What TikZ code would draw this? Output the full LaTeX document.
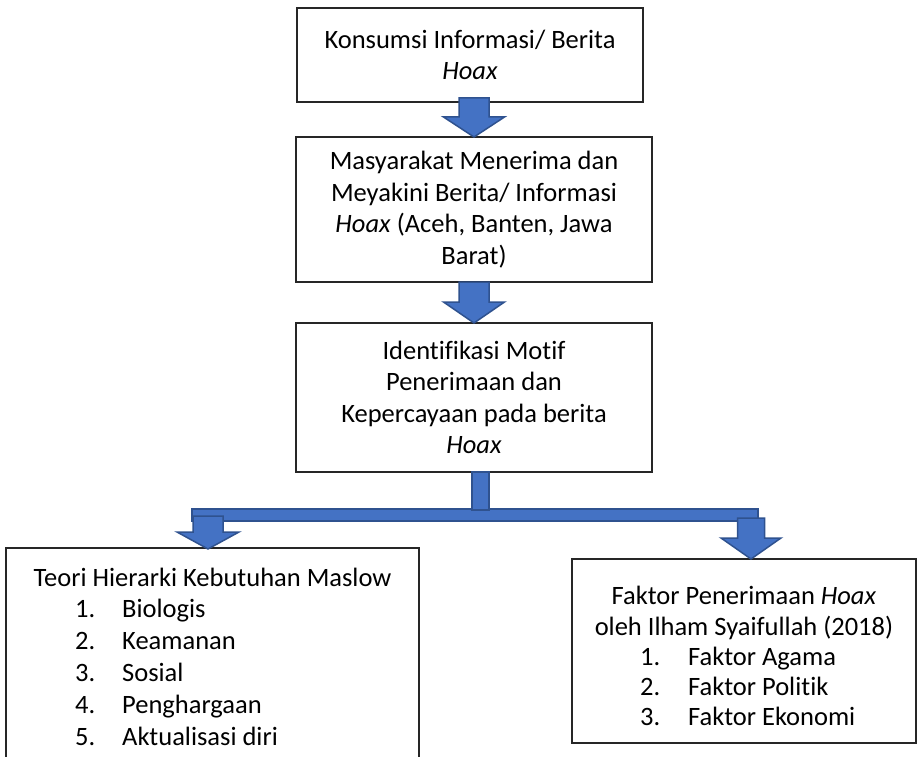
\documentclass[tikz,border=0pt]{standalone}
\usepackage{fontspec}
\setmainfont{Carlito}[Ligatures={NoCommon,NoContextual,NoRequired},RawFeature={-calt}]
\usetikzlibrary{calc}
\definecolor{arrowfill}{HTML}{4472C4}
\definecolor{arrowline}{HTML}{2F528F}
\newcommand\blockarr[5]{%
  \draw[blockarrow] #1 -- ++(-#4,-#2) -- ++(#4-#5,0) -- ++(0,-#3) -- ++(2*#5,0) -- ++(0,#3) -- ++(#4-#5,0) -- cycle;}
\begin{document}
\begin{tikzpicture}[x=1pt,y=-1pt,
  box/.style={draw=black!85, line width=1.3pt, fill=white, inner sep=0pt, outer sep=0pt,
    font=\fontsize{26.5}{31.5}\selectfont, align=center},
  ttl/.style={font=\fontsize{26.5}{31.5}\selectfont, anchor=base, inner sep=0pt},
  item/.style={font=\fontsize{26.5}{31.5}\selectfont, anchor=base west, inner sep=0pt},
  blockarrow/.style={fill=arrowfill, draw=arrowline, line width=1.5pt, line join=miter}]
\useasboundingbox (0,0) rectangle (922,757);
\clip (0,0) rectangle (922,757);
\fill[white] (0,0) rectangle (922,757);

% boxes
\node[box, minimum width=346pt, minimum height=94pt] (b1) at (470,55)
  {Konsumsi Informasi/ Berita\\\textit{Hoax}};
\node[box, minimum width=356pt, minimum height=145pt] (b2) at (474,209.5)
  {Masyarakat Menerima dan\\Meyakini Berita/ Informasi\\\textit{Hoax} (Aceh, Banten, Jawa\\Barat)};
\node[box, minimum width=356pt, minimum height=149pt] (b3) at (474,397.5)
  {Identifikasi Motif\\Penerimaan dan\\Kepercayaan pada berita\\\textit{Hoax}};
\node[box, minimum width=413pt, minimum height=232pt] (b4) at (212.5,664) {};
\node[box, minimum width=344pt, minimum height=184pt] (b5) at (744,651) {};

% texts of lower boxes
\node[ttl] (t4) at (212.5,586) {Teori Hierarki Kebutuhan Maslow};
\node[item] (i41) at (75,617) {\makebox[47pt][l]{1.}Biologis};
\node[item] (i42) at (75,649) {\makebox[47pt][l]{2.}Keamanan};
\node[item] (i43) at (75,681) {\makebox[47pt][l]{3.}Sosial};
\node[item] (i44) at (75,713) {\makebox[47pt][l]{4.}Penghargaan};
\node[item] (i45) at (75,745) {\makebox[47pt][l]{5.}Aktualisasi diri};

\node[ttl] (t5a) at (744,604) {Faktor Penerimaan \textit{Hoax}};
\node[ttl] (t5b) at (744,635) {oleh Ilham Syaifullah (2018)};
\node[item] (i51) at (640,665) {\makebox[48pt][l]{1.}Faktor Agama};
\node[item] (i52) at (640,695) {\makebox[48pt][l]{2.}Faktor Politik};
\node[item] (i53) at (640,725) {\makebox[48pt][l]{3.}Faktor Ekonomi};

% block arrows between upper boxes
\blockarr{(b2.north)}{20}{19}{30.5}{15}
\blockarr{(b3.north)}{21}{20}{30.5}{15}

% branch
\coordinate (barL) at (192,509);
\coordinate (barR) at (758,521);
\draw[blockarrow] (barL) rectangle (barR);
\draw[blockarrow] ($(b3.south)+(-2,0)$) rectangle ++(17,38);
\coordinate (tipL) at (208,549);
\coordinate (tipR) at (751,559);
\blockarr{(tipL)}{17}{16}{31}{15}
\blockarr{(tipR)}{21}{20}{30}{13.5}
\end{tikzpicture}
\end{document}
